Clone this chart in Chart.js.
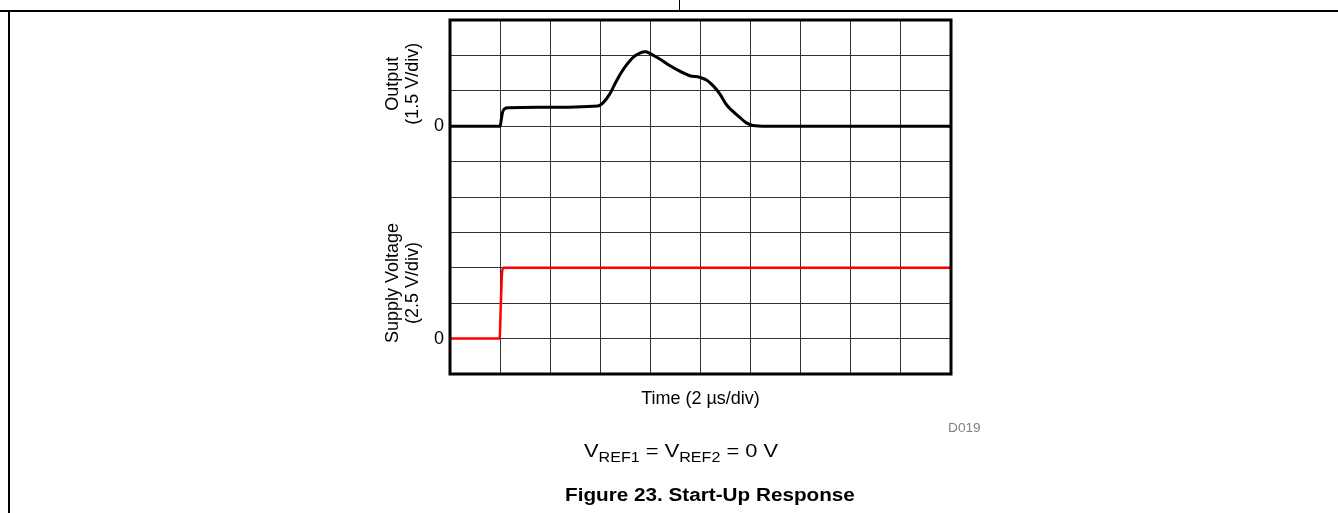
<!DOCTYPE html>
<html>
<head>
<meta charset="utf-8">
<script src="https://cdn.jsdelivr.net/npm/chart.js@4.4.0/dist/chart.umd.min.js"></script>
<style>
  body { margin: 0; background: #fff; font-family: Arial, "Liberation Sans", sans-serif; }
  #wrap { position: relative; width: 1338px; height: 513px; overflow: hidden; }
  #scope { position: absolute; left: 0; top: 0; }
  .line { position: absolute; background: #000; }
  .txt { position: absolute; white-space: nowrap; color: #000; transform-origin: 0 0; }
  sub { font-size: 14px; vertical-align: -5px; }
</style>
</head>
<body>
<div id="wrap">
  <canvas id="scope" width="1338" height="513"></canvas>
  <div class="line" style="left:0;top:10px;width:1338px;height:2px"></div>
  <div class="line" style="left:679px;top:0;width:1px;height:11px"></div>
  <div class="line" style="left:8px;top:10px;width:2px;height:503px"></div>
  <div class="txt" style="left:948px;top:421px;font-size:12px;color:#808080;transform:scaleX(1.14)">D019</div>
  <div class="txt" style="left:584px;top:440px;font-size:19px;transform:scaleX(1.15)">V<sub>REF1</sub> = V<sub>REF2</sub> = 0 V</div>
  <div class="txt" style="left:565px;top:485px;font-size:18px;font-weight:bold;transform:scaleX(1.15)">Figure 23. Start-Up Response</div>
</div>
<script>
// time in us, volts
var outT = [0, 2.0, 2.05, 2.1, 2.18, 2.35, 3.6, 5.9, 6.1, 6.38, 6.65, 6.98, 7.31, 7.58, 7.8, 7.97, 8.37, 8.77, 9.17, 9.57, 9.97, 10.24, 10.5, 10.77, 11.03, 11.23, 11.56, 11.83, 12.09, 12.63, 20];
var outV = [0, 0, 0.3, 0.6, 0.74, 0.78, 0.8, 0.86, 0.98, 1.37, 1.93, 2.5, 2.92, 3.1, 3.15, 3.09, 2.85, 2.57, 2.33, 2.14, 2.07, 1.96, 1.72, 1.37, 0.92, 0.69, 0.38, 0.14, 0.03, 0, 0];
var supT = [0, 1.98, 2.03, 2.08, 2.14, 20];
var supV = [0, 0, 2.5, 4.7, 5, 5];

// scope settings: volts per division and zero position (in divisions from bottom)
var outScale = 1.5, outZero = 7;
var supScale = 2.5, supZero = 1;

function toDiv(ts, vs, scale, zero) {
  return ts.map(function (t, i) { return { x: t, y: zero + vs[i] / scale }; });
}

var labels = {
  id: 'sideLabels',
  afterDraw: function (chart) {
    var c = chart.ctx, a = chart.chartArea, y = chart.scales.y;
    c.save();
    c.strokeStyle = '#000';
    c.lineWidth = 3;
    c.strokeRect(a.left, a.top, a.right - a.left, a.bottom - a.top);
    c.fillStyle = '#000';
    c.font = '18px Arial, "Liberation Sans"';
    c.textAlign = 'center';
    c.textBaseline = 'middle';
    [[8.2, 'Output', '(1.5 V/div)'], [2.57, 'Supply Voltage', '(2.5 V/div)']].forEach(function (l) {
      c.save();
      c.translate(393, y.getPixelForValue(l[0]));
      c.rotate(-Math.PI / 2);
      c.fillText(l[1], 0, 0);
      c.fillText(l[2], 0, 20);
      c.restore();
    });
    c.restore();
  }
};

new Chart(document.getElementById('scope'), {
  type: 'line',
  data: {
    datasets: [{
      data: toDiv(outT, outV, outScale, outZero),
      borderColor: '#000',
      borderWidth: 3,
      pointRadius: 0,
      cubicInterpolationMode: 'monotone'
    }, {
      data: toDiv(supT, supV, supScale, supZero),
      borderColor: '#ff0000',
      borderWidth: 2.5,
      pointRadius: 0,
      cubicInterpolationMode: 'monotone'
    }]
  },
  options: {
    responsive: false,
    animation: false,
    devicePixelRatio: 1,
    layout: { padding: { left: 420, right: 387, top: 20, bottom: 103 } },
    plugins: { legend: { display: false }, tooltip: { enabled: false } },
    scales: {
      x: {
        type: 'linear', min: 0, max: 20,
        ticks: { stepSize: 2, display: false },
        grid: { color: '#333', lineWidth: 1, drawTicks: false },
        border: { display: false },
        title: { display: true, text: 'Time (2 µs/div)', color: '#000', font: { size: 18, family: 'Arial' }, padding: 0 },
        afterFit: function (s) { s.height = 36; }
      },
      y: {
        min: 0, max: 10,
        ticks: {
          stepSize: 1, padding: 6, color: '#000',
          font: { size: 18, family: 'Arial' },
          callback: function (v) { return (v === outZero || v === supZero) ? '0' : ''; }
        },
        grid: { color: '#333', lineWidth: 1, drawTicks: false },
        border: { display: false },
        afterFit: function (s) { s.width = 30; }
      }
    }
  },
  plugins: [labels]
});
</script>
</body>
</html>
